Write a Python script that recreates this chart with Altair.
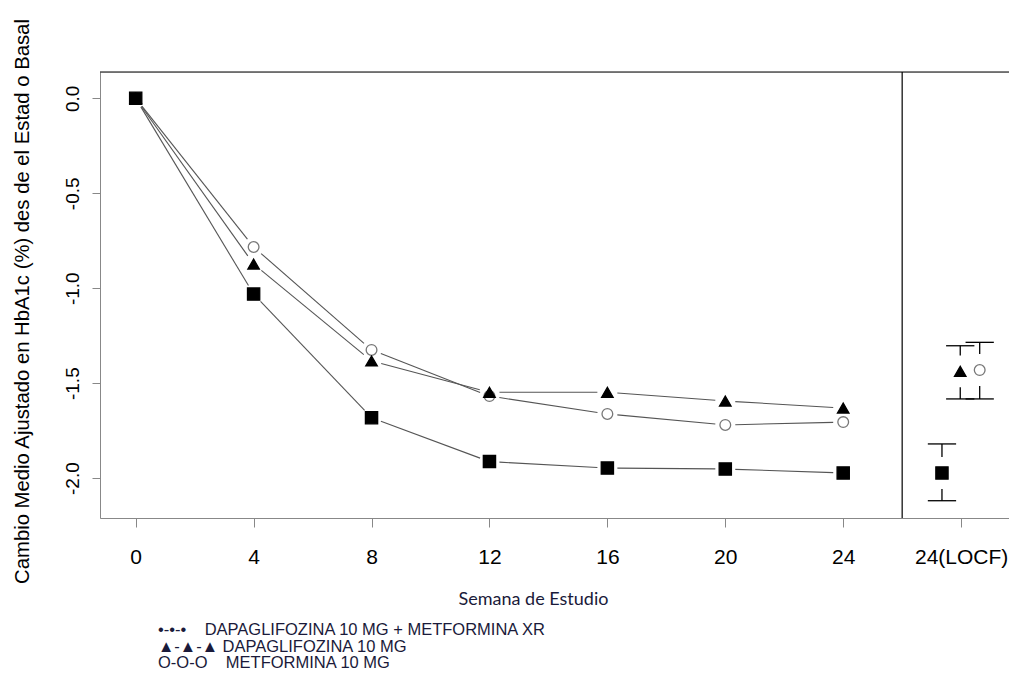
import math
import altair as alt
import pandas as pd

# ---- data ----
weeks = [0, 4, 8, 12, 16, 20, 24]
combo = [0.0, -1.031, -1.682, -1.913, -1.947, -1.952, -1.973]   # DAPAGLIFOZINA 10 MG + METFORMINA XR (square)
dapa = [0.0, -0.873, -1.383, -1.548, -1.548, -1.594, -1.631]    # DAPAGLIFOZINA 10 MG (triangle)
met = [0.0, -0.783, -1.325, -1.568, -1.662, -1.720, -1.705]     # METFORMINA (open circle)

series = ["met", "dapa", "combo"]
locf_x = [28.63, 27.97, 27.35]
locf_mean = [-1.431, -1.438, -1.973]
locf_hi = [-1.285, -1.303, -1.820]
locf_lo = [-1.583, -1.583, -2.119]

x_ticks = [0, 4, 8, 12, 16, 20, 24, 28]
y_ticks = [0.0, -0.5, -1.0, -1.5, -2.0]
divider = 26

legend_lines = [
    "\u2022-\u2022-\u2022\u00a0\u00a0\u00a0\u00a0DAPAGLIFOZINA 10 MG + METFORMINA XR",
    "\u25b2-\u25b2-\u25b2 DAPAGLIFOZINA 10 MG",
    "O-O-O\u00a0\u00a0\u00a0\u00a0METFORMINA 10 MG",
]

# ---- layout ----
W, H = 909, 446
x_dom = [-1.211, 29.624]
y_dom = [-2.21, 0.1385]
gap_px = 10  # R type="b": lines stop short of each point

rows = []
for name, vals in zip(series, [met, dapa, combo]):
    for w, v in zip(weeks, vals):
        rows.append({"series": name, "x": w, "y": v})
df = pd.DataFrame(rows)

# connecting segments, shortened at both ends (in screen space) like R's type="b"
kx = W / (x_dom[1] - x_dom[0])
ky = H / (y_dom[1] - y_dom[0])
segs = []
for name, vals in zip(series, [met, dapa, combo]):
    for i in range(len(weeks) - 1):
        x0, x1 = weeks[i], weeks[i + 1]
        y0, y1 = vals[i], vals[i + 1]
        L = math.hypot((x1 - x0) * kx, (y1 - y0) * ky)
        t = gap_px / L
        segs.append({"series": name,
                     "x": x0 + (x1 - x0) * t, "y": y0 + (y1 - y0) * t,
                     "x2": x1 - (x1 - x0) * t, "y2": y1 - (y1 - y0) * t})
seg_df = pd.DataFrame(segs)

locf = pd.DataFrame({"series": series, "x": locf_x, "y": locf_mean,
                     "hi": locf_hi, "lo": locf_lo})

shape_scale = alt.Scale(domain=series, range=["circle", "triangle-up", "square"])
fill_scale = alt.Scale(domain=series, range=["white", "black", "black"])
stroke_scale = alt.Scale(domain=series, range=["#777777", "black", "black"])
size_scale = alt.Scale(domain=series, range=[115, 150, 190])

x_scale = alt.Scale(domain=x_dom, nice=False, zero=False)
y_scale = alt.Scale(domain=y_dom, nice=False, zero=False)

x_axis = alt.Axis(values=x_ticks, title="Semana de Estudio", grid=False,
                  labelExpr="datum.value == 28 ? '24(LOCF)' : datum.label",
                  labelFontSize=21, labelBaseline="alphabetic", labelPadding=36,
                  tickSize=9, labelOverlap=False, labelFlush=False,
                  titleFont="Lato", titleFontSize=18, titleFontWeight="normal",
                  titleBaseline="alphabetic", titleX=433, titleY=86,
                  titleColor="#1a1a3a")
y_axis = alt.Axis(values=y_ticks, grid=False,
                  labelExpr="replace(format(datum.value, '.1f'), '\u2212', '-')",
                  labelAngle=-90, labelAlign="center", labelBaseline="alphabetic",
                  labelPadding=14, labelFontSize=19, tickSize=8,
                  title="Cambio Medio Ajustado en HbA1c (%) des de el Estad o Basal",
                  titleFontSize=20.3, titleFontWeight="normal",
                  titleAngle=-90, titleAlign="center", titleBaseline="alphabetic",
                  titleX=-72, titleY=229)

x_enc = alt.X("x:Q", scale=x_scale, axis=x_axis)
y_enc = alt.Y("y:Q", scale=y_scale, axis=y_axis)

seg_layer = alt.Chart(seg_df).mark_rule(color="#555555", strokeWidth=1.1).encode(
    x=x_enc, y=y_enc, x2="x2:Q", y2="y2:Q")

markers_df = pd.concat([df, locf[["series", "x", "y"]]], ignore_index=True)
markers = alt.Chart(markers_df).mark_point(opacity=1, strokeWidth=1.3).encode(
    x=x_enc, y=y_enc,
    shape=alt.Shape("series:N", scale=shape_scale, legend=None),
    fill=alt.Fill("series:N", scale=fill_scale, legend=None),
    stroke=alt.Stroke("series:N", scale=stroke_scale, legend=None),
    size=alt.Size("series:N", scale=size_scale, legend=None),
)

rule_style = dict(color="black", strokeWidth=1.3)
cap_hi = alt.Chart(locf).transform_calculate(
    xr="datum.x + 0.48").transform_calculate(
    x="datum.x - 0.48", y="datum.hi").mark_rule(**rule_style).encode(
    x=x_enc, x2="xr:Q", y=y_enc)
cap_lo = alt.Chart(locf).transform_calculate(
    xr="datum.x + 0.48").transform_calculate(
    x="datum.x - 0.48", y="datum.lo").mark_rule(**rule_style).encode(
    x=x_enc, x2="xr:Q", y=y_enc)

stem_hi = alt.Chart(locf).transform_calculate(
    y2="datum.y + 0.084").transform_calculate(y="datum.hi").mark_rule(**rule_style).encode(
    x=x_enc, y=y_enc, y2="y2:Q")
stem_lo = alt.Chart(locf).transform_calculate(
    y2="datum.y - 0.084").transform_calculate(y="datum.lo").mark_rule(**rule_style).encode(
    x=x_enc, y=y_enc, y2="y2:Q")

frame_df = pd.DataFrame({"x": [divider]})
top_rule = alt.Chart(frame_df).mark_rule(color="black", strokeWidth=1.2).encode(
    y=alt.value(0))
div_rule = alt.Chart(frame_df).mark_rule(color="black", strokeWidth=1.2).encode(
    x=x_enc)

chart = alt.layer(
    seg_layer, cap_hi, cap_lo, stem_hi, stem_lo, markers, top_rule, div_rule
).properties(
    width=W, height=H,
    autosize=alt.AutoSizeParams(type="none"),
    padding={"left": 92, "top": 64, "right": 0, "bottom": 153},
    title=alt.TitleParams(text=legend_lines, orient="bottom", anchor="start", frame="group",
                          fontSize=16.5, font="Liberation Sans", fontWeight="normal",
                          color="#1a1a3a", lineHeight=16.5, dx=58, offset=14),
).configure_view(strokeWidth=0).configure_axis(
    grid=False, domainColor="black", tickColor="black", labelColor="black",
    titleColor="black", labelFont="Liberation Sans", titleFont="Liberation Sans",
    domainWidth=1.2, tickWidth=1.2,
).configure(background="white")

chart.save("out.html", embed_options={"renderer": "svg", "actions": False})
